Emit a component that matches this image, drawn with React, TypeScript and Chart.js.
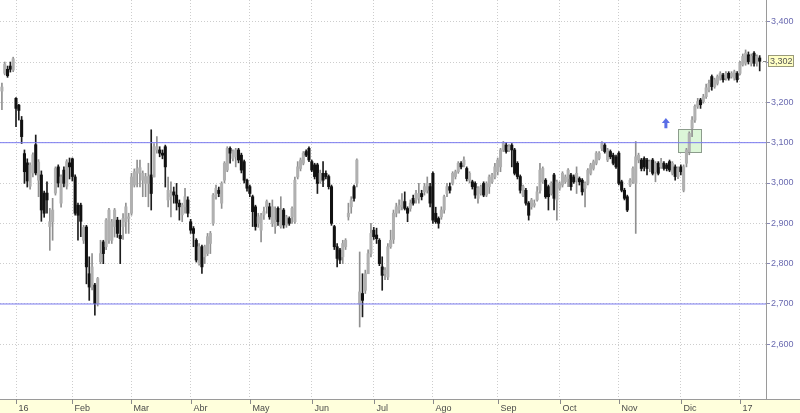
import React, { useEffect, useRef } from 'react';
import { Chart, registerables } from 'chart.js';

Chart.register(...registerables);

// [open, high, low, close] per trading day
type Bar = [number, number, number, number];

const dec15: Bar[] = [
  [3228, 3248, 3182, 3238], [3272, 3300, 3268, 3295], [3282, 3290, 3262, 3266],
  [3290, 3300, 3275, 3282], [3280, 3312, 3276, 3308],
];
const jan16: Bar[] = [
  [3210, 3212, 3140, 3185], [3193, 3195, 3156, 3180], [3156, 3165, 3098, 3115], [3073, 3082, 2999, 3028],
  [3050, 3060, 2990, 3005], [2992, 3050, 2985, 3044], [3025, 3075, 3015, 3070], [3095, 3119, 3020, 3025],
  [3007, 3058, 2966, 3052], [3020, 3030, 2905, 2933], [2975, 2980, 2915, 2925], [2975, 3003, 2925, 2958],
  [2892, 2937, 2833, 2904], [2904, 2962, 2858, 2933], [2975, 3040, 2970, 3036], [3040, 3045, 2990, 3000],
  [2950, 3020, 2940, 3015], [3032, 3040, 2990, 2999], [2992, 3058, 2985, 3053], [3050, 3062, 3010, 3040],
];
const feb16: Bar[] = [
  [3060, 3062, 3005, 3016], [3015, 3020, 2920, 2925], [2945, 2950, 2858, 2920], [2945, 2950, 2867, 2905],
  [2858, 2895, 2850, 2890], [2891, 2895, 2750, 2792], [2775, 2817, 2709, 2742], [2742, 2825, 2735, 2792],
  [2747, 2751, 2672, 2701], [2701, 2766, 2695, 2763], [2805, 2858, 2800, 2825], [2854, 2858, 2800, 2825],
  [2842, 2912, 2835, 2908], [2858, 2937, 2850, 2933], [2858, 2910, 2850, 2904], [2892, 2937, 2866, 2933],
  [2908, 2915, 2865, 2875], [2870, 2908, 2800, 2862], [2892, 2924, 2860, 2912], [2904, 2950, 2875, 2941],
  [2912, 2925, 2875, 2916],
];
const mar16: Bar[] = [
  [2925, 3024, 2920, 3015], [2995, 3035, 2990, 3028], [3024, 3057, 2990, 3036], [3025, 3057, 2990, 3038],
  [3007, 3030, 2966, 3024], [2999, 3024, 2966, 3016], [2999, 3049, 2941, 3016], [3020, 3132, 2933, 2974],
  [3015, 3098, 3015, 3090], [3082, 3115, 3074, 3090], [3082, 3090, 3065, 3074], [3074, 3082, 3060, 3069],
  [3090, 3094, 2990, 3040], [2958, 3015, 2941, 2982], [2966, 3003, 2916, 2974], [2978, 2990, 2950, 2970],
  [2970, 2999, 2933, 2950], [2950, 2958, 2908, 2941], [2921, 2950, 2904, 2945], [2941, 2987, 2925, 2966],
  [2958, 2966, 2916, 2925],
];
const apr16: Bar[] = [
  [2904, 2910, 2875, 2883], [2887, 2892, 2842, 2875], [2858, 2862, 2804, 2809], [2800, 2850, 2796, 2842],
  [2842, 2846, 2776, 2792], [2817, 2846, 2800, 2842], [2825, 2875, 2820, 2867], [2850, 2880, 2825, 2875],
  [2900, 2974, 2895, 2970], [2966, 2995, 2960, 2987], [2982, 2990, 2966, 2974], [2950, 3003, 2937, 2999],
  [3007, 3053, 3000, 3049], [3032, 3090, 3028, 3086], [3086, 3090, 3049, 3074], [3061, 3082, 3055, 3078],
  [3065, 3086, 3040, 3082], [3082, 3086, 3050, 3057], [3069, 3074, 3025, 3032], [3053, 3057, 3000, 3007],
  [3007, 3010, 2980, 2987],
];
const may16: Bar[] = [
  [2991, 2995, 2966, 2974], [2966, 2970, 2892, 2929], [2941, 2945, 2883, 2892], [2900, 2925, 2890, 2916],
  [2883, 2925, 2854, 2920], [2921, 2940, 2910, 2929], [2941, 2958, 2925, 2954], [2941, 2950, 2910, 2916],
  [2900, 2958, 2892, 2941], [2892, 2941, 2875, 2908], [2937, 2941, 2895, 2904], [2892, 2966, 2888, 2933],
  [2933, 2937, 2888, 2896], [2896, 2920, 2890, 2916], [2912, 2916, 2895, 2900], [2916, 2941, 2900, 2937],
  [2904, 3015, 2900, 3007], [3015, 3053, 3010, 3040], [3036, 3062, 3030, 3057], [3049, 3078, 3045, 3074],
  [3078, 3082, 3065, 3069], [3086, 3090, 3053, 3057],
];
const jun16: Bar[] = [
  [3053, 3057, 3028, 3032], [3045, 3049, 3010, 3016], [3045, 3049, 2974, 2999], [3003, 3032, 2999, 3024],
  [3024, 3053, 2991, 3007], [3024, 3030, 3010, 3016], [3016, 3020, 2985, 2991], [2991, 2995, 2895, 2900],
  [2892, 2895, 2835, 2842], [2842, 2850, 2792, 2813], [2834, 2838, 2800, 2809], [2817, 2858, 2800, 2850],
  [2842, 2862, 2835, 2858], [2916, 2950, 2908, 2925], [2941, 2966, 2925, 2958], [2991, 2995, 2955, 2962],
  [2999, 3060, 2990, 3057], [2700, 2829, 2643, 2730], [2726, 2775, 2668, 2709], [2734, 2784, 2726, 2775],
  [2775, 2834, 2775, 2825], [2825, 2900, 2817, 2875],
];
const jul16: Bar[] = [
  [2883, 2890, 2860, 2867], [2871, 2888, 2850, 2862], [2858, 2862, 2795, 2800], [2792, 2817, 2734, 2771],
  [2775, 2790, 2760, 2784], [2767, 2850, 2760, 2842], [2842, 2883, 2838, 2858], [2860, 2933, 2850, 2925],
  [2925, 2950, 2916, 2941], [2933, 2958, 2925, 2945], [2941, 2974, 2933, 2958], [2954, 2978, 2933, 2937],
  [2937, 2941, 2904, 2925], [2937, 2958, 2930, 2950], [2962, 2970, 2945, 2950], [2958, 2982, 2950, 2974],
  [2962, 2999, 2950, 2974], [2974, 2982, 2958, 2966], [2978, 2999, 2970, 2991], [2982, 3015, 2975, 2999],
  [2991, 2999, 2941, 2950],
];
const aug16: Bar[] = [
  [3024, 3028, 2900, 2908], [2925, 2940, 2900, 2904], [2912, 2916, 2888, 2900], [2916, 2941, 2910, 2933],
  [2933, 2970, 2925, 2966], [2974, 2999, 2966, 2991], [2991, 3000, 2975, 2982], [2999, 3028, 2995, 3024],
  [3016, 3032, 3010, 3028], [3028, 3053, 3024, 3049], [3049, 3053, 3035, 3040], [3045, 3065, 3040, 3057],
  [3036, 3040, 3005, 3011], [3007, 3028, 3000, 3024], [3003, 3007, 2985, 2991], [2999, 3003, 2962, 2970],
  [2962, 2991, 2950, 2987], [2974, 2995, 2970, 2991], [2999, 3003, 2966, 2970], [2970, 3003, 2966, 2999],
  [2991, 3020, 2974, 3015], [3003, 3024, 2999, 3020], [3015, 3049, 3010, 3040],
];
const sep16: Bar[] = [
  [3028, 3062, 3020, 3057], [3040, 3086, 3028, 3082], [3082, 3103, 3078, 3098], [3094, 3100, 3074, 3078],
  [3082, 3095, 3078, 3090], [3094, 3098, 3040, 3082], [3082, 3086, 3020, 3024], [3049, 3053, 3010, 3016],
  [3016, 3020, 2975, 2982], [2970, 2995, 2966, 2991], [2982, 2987, 2945, 2950], [2950, 2954, 2908, 2920],
  [2941, 2962, 2935, 2958], [2945, 2958, 2940, 2949], [2958, 2991, 2955, 2978], [2982, 3049, 2975, 3032],
  [3003, 3040, 2999, 3036], [3007, 3011, 2962, 2966], [2991, 2995, 2933, 2966], [2974, 3003, 2970, 2999],
  [3020, 3024, 2933, 2962], [2958, 3007, 2908, 3003],
];
const oct16: Bar[] = [
  [2987, 3003, 2982, 2999], [2995, 3028, 2990, 3024], [3003, 3020, 2999, 3015], [3011, 3036, 2991, 3032],
  [3020, 3024, 2982, 2991], [3015, 3020, 2999, 3003], [3007, 3040, 2974, 3024], [3011, 3015, 2995, 3003],
  [3007, 3011, 2970, 2978], [2987, 3003, 2941, 2999], [2999, 3036, 2995, 3032], [3024, 3049, 3020, 3045],
  [3036, 3057, 3032, 3053], [3049, 3078, 3045, 3074], [3061, 3078, 3057, 3074], [3086, 3103, 3080, 3098],
  [3094, 3098, 3074, 3078], [3057, 3086, 3053, 3082], [3078, 3082, 3060, 3065], [3069, 3074, 3045, 3049],
  [3065, 3069, 3036, 3040],
];
const nov16: Bar[] = [
  [3074, 3078, 2995, 2999], [3003, 3007, 2978, 2982], [2982, 2987, 2958, 2962], [2966, 2970, 2929, 2933],
  [2995, 3011, 2991, 3007], [3003, 3040, 2999, 3036], [2999, 3103, 2875, 3065], [3057, 3074, 3050, 3069],
  [3057, 3061, 3030, 3036], [3061, 3065, 3030, 3040], [3057, 3061, 3020, 3036], [3036, 3057, 3028, 3053],
  [3057, 3061, 3020, 3024], [3028, 3053, 3003, 3049], [3049, 3053, 3020, 3024], [3040, 3061, 3036, 3053],
  [3049, 3053, 3032, 3036], [3045, 3049, 3030, 3036], [3053, 3057, 3028, 3032], [3024, 3053, 3020, 3049],
  [3040, 3045, 3007, 3016], [3016, 3040, 3011, 3036],
];
const dec16: Bar[] = [
  [3040, 3045, 3020, 3028], [2982, 3045, 2978, 3040], [3049, 3086, 3040, 3082], [3078, 3127, 3070, 3123],
  [3136, 3165, 3115, 3156], [3156, 3194, 3150, 3190], [3190, 3210, 3185, 3202], [3206, 3210, 3185, 3194],
  [3202, 3220, 3198, 3214], [3214, 3245, 3210, 3236], [3231, 3255, 3226, 3247], [3264, 3268, 3230, 3239],
  [3239, 3260, 3235, 3256], [3247, 3268, 3243, 3264], [3260, 3276, 3255, 3272], [3268, 3272, 3250, 3256],
  [3260, 3276, 3255, 3272], [3272, 3276, 3255, 3260], [3264, 3276, 3260, 3272], [3260, 3280, 3255, 3276],
  [3272, 3276, 3250, 3256],
];
const jan17: Bar[] = [
  [3272, 3302, 3268, 3297], [3293, 3320, 3290, 3314], [3297, 3330, 3292, 3322], [3318, 3325, 3295, 3301],
  [3297, 3320, 3290, 3314], [3322, 3326, 3290, 3297], [3297, 3318, 3290, 3314], [3310, 3316, 3278, 3302],
];

const monthBlocks: Bar[][] = [dec15, jan16, feb16, mar16, apr16, may16, jun16, jul16, aug16, sep16, oct16, nov16, dec16, jan17];
const monthLabels = ['16', 'Feb', 'Mar', 'Abr', 'May', 'Jun', 'Jul', 'Ago', 'Sep', 'Oct', 'Nov', 'Dic', '17'];
const firstIndex = -5; // last days of Dec 2015 before the first Jan 2016 session
const yTickValues = [2600, 2700, 2800, 2900, 3000, 3100, 3200, 3300, 3400];
const levelLines = [3100, 2700];
const signalBox = { x0: 235.1, x1: 243.1, low: 3077, high: 3133 };
const signalArrow = { x: 230.7, tip: 3161, base: 3136 };
const lastValue = 3302;

const X_MIN = -5.68;
const X_MAX = 266.24;
const Y_MIN = 2464.4;
const Y_MAX = 3453.8;

const FONT = "'Liberation Sans', Arial, sans-serif";

export default function App() {
  const canvasRef = useRef<HTMLCanvasElement | null>(null);

  useEffect(() => {
    document.body.style.margin = '0';
    const canvas = canvasRef.current;
    if (!canvas) return;

    const bars = monthBlocks.flat();
    const xs = bars.map((_, k) => firstIndex + k);
    const isUp = bars.map((b) => b[3] >= b[0]);
    const wickData = bars.map((b, k) => ({ x: xs[k], y: [b[2], b[1]] }));
    const bodyData = bars.map((b, k) => ({ x: xs[k], y: [Math.min(b[0], b[3]), Math.max(b[0], b[3])] }));

    const monthStarts: number[] = [];
    let idx = firstIndex;
    monthBlocks.forEach((m, i) => {
      if (i > 0) monthStarts.push(idx);
      idx += m.length;
    });

    const levelDatasets = levelLines.map((v) => ({
      type: 'line',
      label: `level ${v}`,
      data: [{ x: X_MIN, y: v }, { x: X_MAX, y: v }],
      borderColor: '#7b7bf0',
      borderWidth: 1,
      pointRadius: 0,
      fill: false,
      order: 0,
    }));

    const boxRect = (chart: any) => {
      const sx = chart.scales.x;
      const sy = chart.scales.y;
      const bx0 = Math.round(sx.getPixelForValue(signalBox.x0)) + 0.5;
      const bx1 = Math.round(sx.getPixelForValue(signalBox.x1)) + 0.5;
      const by0 = Math.round(sy.getPixelForValue(signalBox.high)) + 0.5;
      const by1 = Math.round(sy.getPixelForValue(signalBox.low)) + 0.5;
      return [bx0, by0, bx1 - bx0, by1 - by0];
    };

    const overlay = {
      id: 'overlay',
      beforeDraw(chart: any) {
        const { ctx, width, height, chartArea } = chart;
        ctx.save();
        ctx.fillStyle = '#ffffff';
        ctx.fillRect(0, 0, width, height);
        ctx.fillStyle = '#ffffdc';
        ctx.fillRect(0, chartArea.bottom, width, height - chartArea.bottom);
        ctx.restore();
      },
      beforeDatasetsDraw(chart: any) {
        const { ctx } = chart;
        const [bx, by, bw, bh] = boxRect(chart);
        ctx.save();
        ctx.fillStyle = '#dcf6d8';
        ctx.fillRect(bx, by, bw, bh);
        ctx.strokeStyle = '#8c9c8c';
        ctx.lineWidth = 1;
        ctx.strokeRect(bx, by, bw, bh);
        ctx.restore();
      },
      afterDraw(chart: any) {
        const { ctx, chartArea, width } = chart;
        const sx = chart.scales.x;
        const sy = chart.scales.y;
        ctx.save();
        ctx.setLineDash([]);
        // axis lines
        ctx.strokeStyle = '#9a9a9a';
        ctx.lineWidth = 1;
        ctx.beginPath();
        ctx.moveTo(Math.round(chartArea.right) + 0.5, 0);
        ctx.lineTo(Math.round(chartArea.right) + 0.5, chartArea.bottom);
        ctx.stroke();
        ctx.beginPath();
        ctx.moveTo(0, Math.round(chartArea.bottom) + 0.5);
        ctx.lineTo(width, Math.round(chartArea.bottom) + 0.5);
        ctx.stroke();
        // month tick marks and labels
        ctx.strokeStyle = '#8a8a8a';
        ctx.fillStyle = '#4a4a4a';
        ctx.font = `9px ${FONT}`;
        ctx.textAlign = 'left';
        ctx.textBaseline = 'alphabetic';
        monthStarts.forEach((v, i) => {
          const px = Math.round(sx.getPixelForValue(v)) + 0.5;
          ctx.beginPath();
          ctx.moveTo(px, chartArea.bottom);
          ctx.lineTo(px, chartArea.bottom + 5);
          ctx.stroke();
          ctx.fillText(monthLabels[i], px + 2, chartArea.bottom + 12);
        });
        // arrow
        const ax = sx.getPixelForValue(signalArrow.x);
        const aTip = sy.getPixelForValue(signalArrow.tip);
        const aBase = sy.getPixelForValue(signalArrow.base);
        ctx.fillStyle = '#5a6ee6';
        ctx.beginPath();
        ctx.moveTo(ax, aTip);
        ctx.lineTo(ax + 4, aTip + 5);
        ctx.lineTo(ax + 1.5, aTip + 5);
        ctx.lineTo(ax + 1.5, aBase);
        ctx.lineTo(ax - 1.5, aBase);
        ctx.lineTo(ax - 1.5, aTip + 5);
        ctx.lineTo(ax - 4, aTip + 5);
        ctx.closePath();
        ctx.fill();
        // last value label
        const ly = Math.round(sy.getPixelForValue(lastValue));
        const lx = Math.round(chartArea.right) + 2;
        ctx.strokeStyle = '#888888';
        ctx.beginPath();
        ctx.moveTo(Math.round(chartArea.right) - 3, ly + 0.5);
        ctx.lineTo(Math.round(chartArea.right), ly + 0.5);
        ctx.stroke();
        ctx.fillStyle = '#ffffc4';
        ctx.fillRect(lx + 0.5, ly - 5.5, 25, 11);
        ctx.strokeStyle = '#9a9a7a';
        ctx.strokeRect(lx + 0.5, ly - 5.5, 25, 11);
        ctx.fillStyle = '#555555';
        ctx.font = `9px ${FONT}`;
        ctx.textBaseline = 'middle';
        ctx.fillText(lastValue.toLocaleString('en-US'), lx + 2, ly + 0.5);
        ctx.restore();
      },
    };

    const chart = new Chart(canvas, {
      type: 'bar',
      data: {
        datasets: [
          {
            label: 'wick',
            data: wickData as any,
            barThickness: 1,
            grouped: false,
            backgroundColor: isUp.map((u) => (u ? '#909090' : '#1c1c1c')),
            borderWidth: 0,
            order: 2,
          } as any,
          {
            label: 'body',
            data: bodyData as any,
            barThickness: 2.4,
            grouped: false,
            minBarLength: 1,
            backgroundColor: isUp.map((u) => (u ? '#b0b0b0' : '#111111')),
            borderWidth: 0,
            order: 1,
          } as any,
          ...(levelDatasets as any[]),
        ],
      },
      options: {
        responsive: false,
        animation: false,
        maintainAspectRatio: false,
        layout: { padding: 0 },
        plugins: { legend: { display: false }, tooltip: { enabled: false }, title: { display: false } },
        scales: {
          x: {
            type: 'linear',
            min: X_MIN,
            max: X_MAX,
            offset: false,
            grid: { color: '#cdcdcd', offset: false, drawTicks: false, lineWidth: 1 },
            border: { display: false, dash: [1, 2] },
            ticks: { display: false },
            afterBuildTicks: (s: any) => {
              s.ticks = monthStarts.map((v) => ({ value: v }));
            },
            afterFit: (s: any) => {
              s.height = 14;
              s.paddingLeft = 0;
              s.paddingRight = 0;
            },
          },
          y: {
            type: 'linear',
            position: 'right',
            min: Y_MIN,
            max: Y_MAX,
            beginAtZero: false,
            grid: {
              color: '#cdcdcd',
              drawTicks: true,
              tickLength: 4,
              tickColor: '#8a8ab8',
              tickBorderDash: [],
            } as any,
            border: { display: false, dash: [1, 2] },
            ticks: {
              color: '#6a6ab0',
              padding: 1,
              font: { family: FONT, size: 9 },
              callback: (v: any) => Number(v).toLocaleString('en-US'),
            },
            afterBuildTicks: (s: any) => {
              s.ticks = yTickValues.map((v) => ({ value: v }));
            },
            afterFit: (s: any) => {
              s.width = 34;
              s.paddingTop = 0;
              s.paddingBottom = 0;
            },
          },
        },
      } as any,
      plugins: [overlay],
    });

    return () => chart.destroy();
  }, []);

  return (
    <div style={{ width: 800, height: 413 }}>
      <canvas ref={canvasRef} width={800} height={413} style={{ display: 'block' }} />
    </div>
  );
}
